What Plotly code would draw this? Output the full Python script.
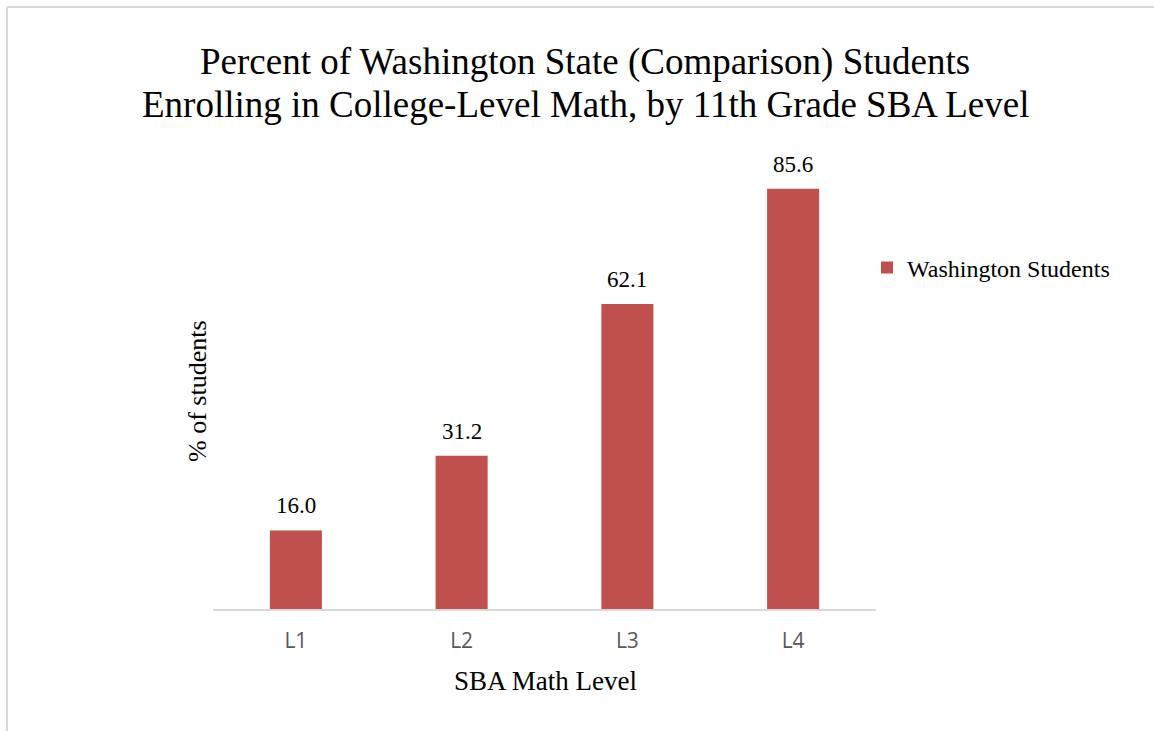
import plotly.graph_objects as go

categories = ["L1", "L2", "L3", "L4"]
values = [16.0, 31.2, 62.1, 85.6]
labels = ["16.0", "31.2", "62.1", "85.6"]
series_name = "Washington Students"
title_lines = ["Percent of Washington State (Comparison) Students",
               "Enrolling in College-Level Math, by 11th Grade SBA Level"]
x_title = "SBA Math Level"
y_title = "% of students"

W, H = 1154, 731
L, R, T, B = 213, 278, 118, 122
PW, PH = W - L - R, H - T - B
SERIF = "Liberation Serif, Times New Roman, serif"


def px_x(x):
    return (x - L) / PW


def px_y(y):
    return (H - B - y) / PH


fig = go.Figure()
fig.add_trace(go.Bar(
    x=categories, y=values, name=series_name,
    marker=dict(color="#C0504D", line=dict(width=0)),
    showlegend=True,
))

annotations = []
for c, v, t in zip(categories, values, labels):
    annotations.append(dict(
        x=c, y=v, xref="x", yref="y", text=t, showarrow=False,
        yanchor="bottom", yshift=10,
        font=dict(family=SERIF, size=23, color="#000000"),
    ))
for line, ypx in zip(title_lines, [62, 104]):
    annotations.append(dict(
        x=px_x(585), y=px_y(ypx), xref="paper", yref="paper", text=line,
        showarrow=False, xanchor="center", yanchor="middle",
        font=dict(family=SERIF, size=37, color="#000000"),
    ))
annotations.append(dict(
    x=px_x(545), y=px_y(681), xref="paper", yref="paper", text=x_title,
    showarrow=False, xanchor="center", yanchor="middle",
    font=dict(family=SERIF, size=27, color="#000000"),
))
annotations.append(dict(
    x=px_x(197), y=px_y(391), xref="paper", yref="paper", text=y_title,
    showarrow=False, xanchor="center", yanchor="middle", textangle=-90,
    font=dict(family=SERIF, size=26, color="#000000"),
))

fig.update_layout(
    width=W, height=H,
    margin=dict(l=L, r=R, t=T, b=B),
    paper_bgcolor="white", plot_bgcolor="white",
    bargap=0.686,
    annotations=annotations,
    xaxis=dict(
        showline=True, linecolor="#d9d9d9", linewidth=2,
        ticks="", showgrid=False, ticklabelstandoff=12,
        tickfont=dict(family="Open Sans, sans-serif", size=21, color="#595959"),
    ),
    yaxis=dict(
        range=[0, 100], showgrid=False, showticklabels=False, zeroline=False, showline=False,
    ),
    legend=dict(
        x=px_x(867), xanchor="left",
        y=px_y(268), yanchor="middle",
        font=dict(family=SERIF, size=24, color="#000000"),
        bgcolor="rgba(0,0,0,0)",
    ),
    shapes=[
        dict(type="line", xref="paper", yref="paper",
             x0=px_x(7), x1=px_x(W + 5), y0=px_y(7), y1=px_y(7),
             line=dict(color="#d9d9d9", width=2)),
        dict(type="line", xref="paper", yref="paper",
             x0=px_x(7), x1=px_x(7), y0=px_y(7), y1=px_y(H + 5),
             line=dict(color="#d9d9d9", width=2)),
    ],
)

fig.write_html("out.html", config={"displayModeBar": False},
               post_script="document.body.style.margin='0';")
